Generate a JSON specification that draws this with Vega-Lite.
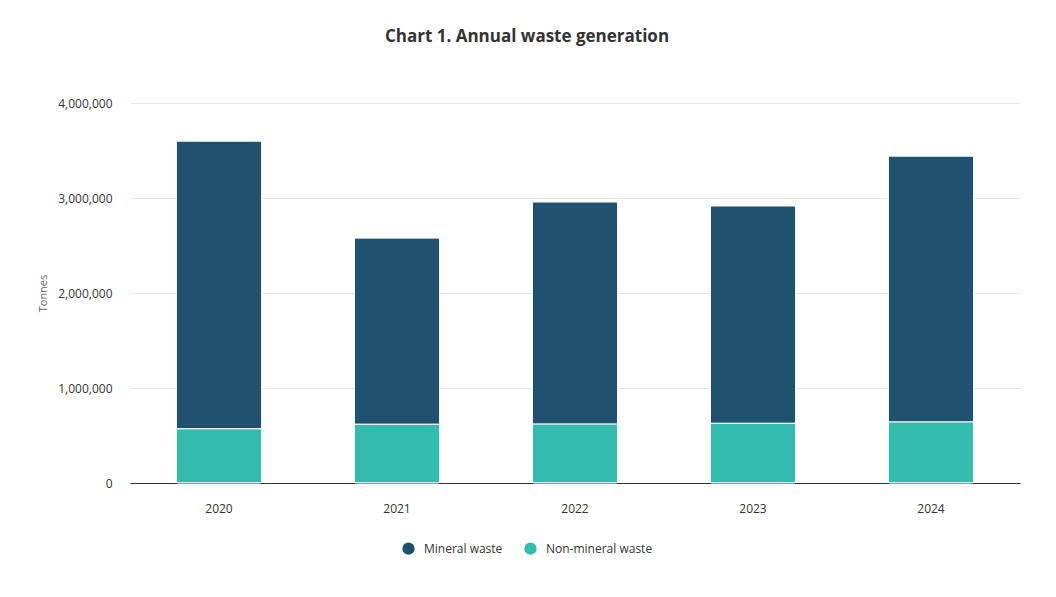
{
  "$schema": "https://vega.github.io/schema/vega-lite/v6.json",
  "width": 890,
  "height": 380,
  "autosize": {"type": "none"},
  "padding": {"left": 130, "top": 103, "right": 36, "bottom": 114},
  "background": "white",
  "config": {
    "font": "Open Sans",
    "view": {"stroke": null},
    "axis": {"labelFont": "Open Sans", "titleFont": "Open Sans"}
  },
  "title": {
    "text": "Chart 1. Annual waste generation",
    "font": "Open Sans",
    "fontSize": 17,
    "fontWeight": "bold",
    "color": "#333333",
    "anchor": "middle",
    "frame": "group",
    "dx": -48,
    "offset": 51
  },
  "data": {
    "values": [
      {"year": "2020", "series": "Mineral waste", "tonnes": 3030000},
      {"year": "2020", "series": "Non-mineral waste", "tonnes": 570000},
      {"year": "2021", "series": "Mineral waste", "tonnes": 1962000},
      {"year": "2021", "series": "Non-mineral waste", "tonnes": 618000},
      {"year": "2022", "series": "Mineral waste", "tonnes": 2340000},
      {"year": "2022", "series": "Non-mineral waste", "tonnes": 620000},
      {"year": "2023", "series": "Mineral waste", "tonnes": 2290000},
      {"year": "2023", "series": "Non-mineral waste", "tonnes": 628000},
      {"year": "2024", "series": "Mineral waste", "tonnes": 2800000},
      {"year": "2024", "series": "Non-mineral waste", "tonnes": 642000}
    ]
  },
  "mark": {"type": "bar", "stroke": "white", "strokeWidth": 1, "cornerRadius": 2},
  "encoding": {
    "x": {
      "field": "year",
      "type": "nominal",
      "scale": {"paddingInner": 0.52, "paddingOuter": 0.26},
      "axis": {
        "title": null,
        "labelAngle": 0,
        "labelFontSize": 12,
        "labelColor": "#333333",
        "labelPadding": 20,
        "ticks": false,
        "domainColor": "#333333",
        "domainWidth": 1
      }
    },
    "y": {
      "field": "tonnes",
      "type": "quantitative",
      "stack": "zero",
      "scale": {"domain": [0, 4000000], "nice": false},
      "axis": {
        "title": "Tonnes",
        "titleFontSize": 11,
        "titleFontWeight": "normal",
        "titleColor": "#666666",
        "titlePadding": 9,
        "format": ",.0f",
        "values": [0, 1000000, 2000000, 3000000, 4000000],
        "labelOverlap": false,
        "labelFontSize": 12,
        "labelColor": "#333333",
        "labelPadding": 18,
        "ticks": false,
        "domain": false,
        "gridColor": "#e6e6e6"
      }
    },
    "color": {
      "field": "series",
      "type": "nominal",
      "scale": {
        "domain": ["Mineral waste", "Non-mineral waste"],
        "range": ["#20526f", "#33bcad"]
      },
      "legend": {
        "title": null,
        "orient": "none",
        "direction": "horizontal",
        "legendX": 272,
        "legendY": 439,
        "symbolType": "circle",
        "symbolSize": 150,
        "symbolStrokeWidth": 0,
        "labelFontSize": 12,
        "labelColor": "#333333",
        "labelOffset": 9,
        "columnPadding": 21
      }
    },
    "order": {"field": "series", "sort": "descending"}
  }
}
